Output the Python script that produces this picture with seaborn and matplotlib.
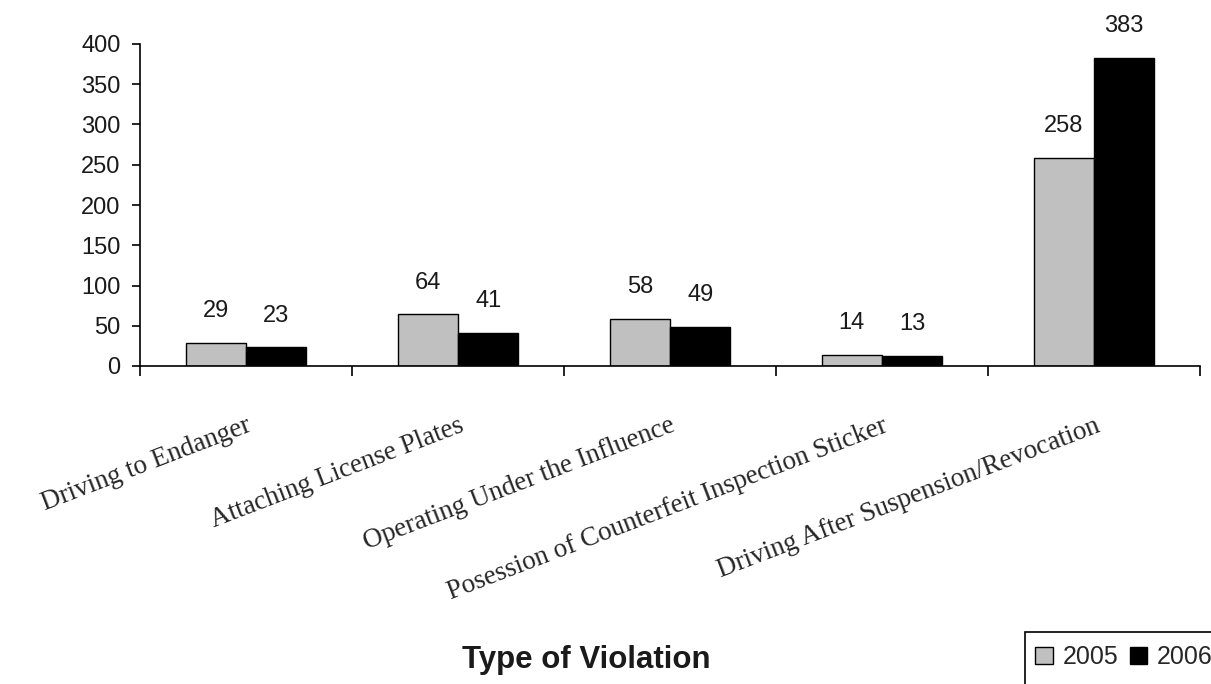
import matplotlib
matplotlib.use("Agg")
import matplotlib.pyplot as plt
import seaborn as sns
import pandas as pd
from matplotlib.patches import Patch, Rectangle

violations = [
    "Driving to Endanger",
    "Attaching License Plates",
    "Operating Under the Influence",
    "Posession of Counterfeit Inspection Sticker",
    "Driving After Suspension/Revocation",
]
years = ["2005", "2006"]
counts_2005 = [29, 64, 58, 14, 258]
counts_2006 = [23, 41, 49, 13, 383]
y_ticks = [0, 50, 100, 150, 200, 250, 300, 350, 400]

df = pd.DataFrame({
    "violation": violations * 2,
    "year": [years[0]] * len(violations) + [years[1]] * len(violations),
    "count": counts_2005 + counts_2006,
})

sns.set_style("white")
plt.rcParams["font.family"] = ["Liberation Sans", "DejaVu Sans"]

colors = {"2005": "#c0c0c0", "2006": "#000000"}
text_color = "#1a1a1a"

fig = plt.figure(figsize=(12.11, 6.84), dpi=100)
ax = fig.add_axes([140 / 1211, 1 - 366 / 684, 1060 / 1211, 322 / 684])

sns.barplot(data=df, x="violation", y="count", hue="year", order=violations,
            hue_order=years, palette=colors, width=0.57, edgecolor="black",
            linewidth=1.0, saturation=1, legend=False, ax=ax)

# value labels above each bar
for container in ax.containers:
    for bar, val in zip(container, container.datavalues):
        ax.annotate(f"{int(val)}", xy=(bar.get_x() + bar.get_width() / 2, val),
                    xytext=(0, 23), textcoords="offset points",
                    ha="center", va="center", fontsize=17, color=text_color)

ax.set_ylim(0, 400)
ax.set_xlim(-0.5, len(violations) - 0.5)
ax.set_yticks(y_ticks)
ax.set_yticklabels([str(t) for t in y_ticks], fontsize=17, color=text_color)

# boundary ticks between categories, labels at category centres
ax.set_xticks([i - 0.5 for i in range(len(violations) + 1)])
ax.set_xticklabels([])
ax.set_xticks(range(len(violations)), minor=True)
ax.set_xticklabels(violations, minor=True, rotation=21, ha="right",
                   va="top", rotation_mode="anchor",
                   fontfamily="Liberation Serif", fontsize=19.5)
ax.tick_params(axis="x", which="minor", length=0, pad=34)
ax.tick_params(axis="x", which="major", length=7, width=1.2, direction="out",
               color="black", bottom=True)
ax.tick_params(axis="y", length=6, width=1.2, direction="out", color="black",
               left=True, pad=8)

for side in ["top", "right"]:
    ax.spines[side].set_visible(False)
for side in ["left", "bottom"]:
    ax.spines[side].set_color("black")
    ax.spines[side].set_linewidth(1.2)

ax.set_xlabel("")
ax.set_ylabel("")

fig.text(586 / 1211, 1 - 668 / 684, "Type of Violation", ha="center",
         va="baseline", fontsize=22.5, fontweight="bold", color=text_color)

# legend box running off the lower-right corner of the figure
fig.patches.append(Rectangle((1025 / 1211, -0.05), 0.2, (0.05 + 1 - 632 / 684),
                             transform=fig.transFigure, facecolor="white",
                             edgecolor="black", linewidth=1.2, zorder=1))
handles = [Patch(facecolor=colors[y], edgecolor="black", linewidth=1.0) for y in years]
leg = fig.legend(handles, years, loc="center left",
                 bbox_to_anchor=(1035 / 1211, 1 - 657 / 684), ncol=2,
                 frameon=False, fontsize=18,
                 handlelength=0.7, handleheight=0.7, handletextpad=0.4,
                 columnspacing=0.45, borderpad=0, borderaxespad=0)
leg.set_zorder(3)

fig.savefig("out.png", dpi=100)
